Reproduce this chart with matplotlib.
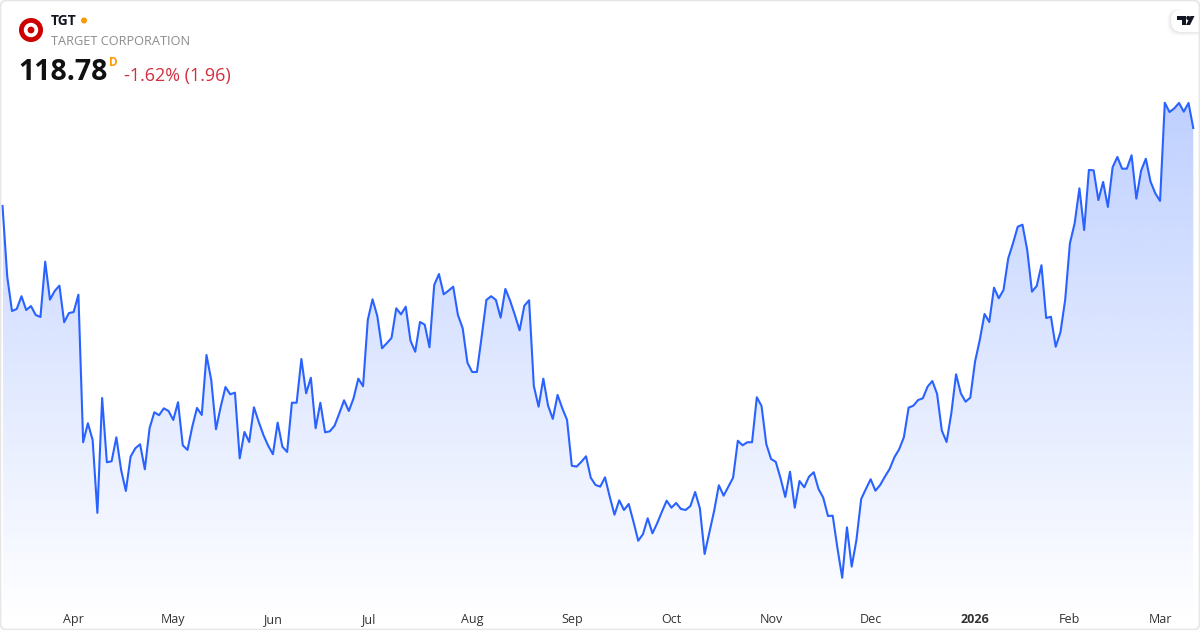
import matplotlib
matplotlib.use('Agg')
import matplotlib.pyplot as plt
import numpy as np
from matplotlib.patches import Circle, FancyBboxPatch, Polygon

plt.rcParams['font.family'] = ['Open Sans', 'DejaVu Sans']

prices = [
    112.67, 107.12, 104.43, 104.59, 105.59, 104.51, 104.82, 104.12, 103.96, 108.30,
    105.32, 106.00, 106.42, 103.55, 104.27, 104.35, 105.71, 94.14, 95.63, 94.32,
    88.60, 97.61, 92.57, 92.65, 94.53, 91.97, 90.32, 93.01, 93.67, 93.98,
    92.02, 95.24, 96.49, 96.26, 96.80, 96.59, 95.89, 97.28, 93.90, 93.54,
    95.36, 96.83, 96.28, 100.98, 99.02, 95.16, 96.93, 98.47, 97.90, 98.03,
    92.88, 94.95, 94.16, 96.88, 95.75, 94.71, 93.87, 93.20, 95.68, 93.79,
    93.38, 97.24, 97.24, 100.67, 97.98, 99.20, 95.24, 97.24, 94.92, 95.00,
    95.44, 96.41, 97.43, 96.59, 97.59, 99.13, 98.53, 103.73, 105.35, 104.04,
    101.51, 101.90, 102.32, 104.64, 104.17, 104.77, 102.10, 101.24, 103.57, 103.36,
    101.59, 106.47, 107.33, 105.74, 106.02, 106.34, 104.12, 103.08, 100.38, 99.65,
    99.65, 102.42, 105.30, 105.59, 105.30, 103.91, 106.16, 105.24, 104.12, 102.92,
    104.85, 105.27, 98.55, 96.93, 99.13, 97.01, 95.97, 97.85, 96.80, 95.89,
    92.30, 92.23, 92.60, 93.04, 91.36, 90.79, 90.66, 91.39, 89.87, 88.46,
    89.59, 88.83, 89.30, 87.91, 86.42, 86.93, 88.18, 87.00, 87.79, 88.70,
    89.56, 89.01, 89.38, 88.91, 88.83, 89.14, 90.24, 88.96, 85.38, 87.05,
    88.75, 90.77, 89.95, 90.66, 91.36, 94.26, 93.90, 94.14, 94.14, 97.67,
    96.98, 94.00, 92.83, 92.60, 91.32, 89.85, 91.83, 89.01, 91.10, 90.61,
    91.44, 91.79, 90.48, 89.80, 88.36, 88.38, 85.83, 83.52, 87.47, 84.39,
    86.48, 89.69, 90.48, 91.24, 90.34, 90.79, 91.44, 92.05, 92.96, 93.59,
    94.53, 96.85, 97.01, 97.45, 97.59, 98.50, 98.94, 97.93, 95.05, 94.16,
    96.41, 99.47, 97.98, 97.32, 97.64, 100.46, 102.16, 104.20, 103.57, 106.26,
    105.43, 106.08, 108.56, 109.74, 111.04, 111.20, 109.22, 105.95, 106.39, 108.02,
    103.88, 103.98, 101.63, 102.76, 105.30, 109.74, 111.31, 114.05, 110.78, 115.49,
    115.46, 113.13, 114.55, 112.59, 115.70, 116.51, 115.59, 115.59, 116.64, 113.24,
    115.43, 116.37, 114.57, 113.66, 113.06, 120.76, 120.03, 120.32, 120.74, 120.06,
    120.74, 118.78,
]
tick_pos = [15, 36, 57, 77, 99, 120, 141, 162, 183, 205, 225, 244]
tick_labels = ['Apr', 'May', 'Jun', 'Jul', 'Aug', 'Sep', 'Oct', 'Nov', 'Dec', '2026', 'Feb', 'Mar']

x = np.arange(len(prices))
y = np.array(prices)
y_min, y_max = 79.42, 128.815

fig = plt.figure(figsize=(12, 6.3), dpi=100, facecolor='white')

ax = fig.add_axes([0, 0, 1, 1])
ax.set_xlim(-0.527, 252.42)
ax.set_ylim(y_min, y_max)
ax.patch.set_alpha(0)
for s in ax.spines.values():
    s.set_visible(False)
ax.set_yticks([])
ax.set_xticks(tick_pos)
ax.set_xticklabels(tick_labels, fontsize=9, color='#333333', fontweight='normal')
ax.tick_params(axis='x', length=0, direction='in', pad=-7.6)
for lab in ax.get_xticklabels():
    lab.set_verticalalignment('center')
    if lab.get_text() == '2026':
        lab.set_fontweight('bold')

# gradient under the line, clipped to the area
n = 256
grad = np.zeros((n, 1, 4))
grad[:, 0, 0] = 41 / 255
grad[:, 0, 1] = 98 / 255
grad[:, 0, 2] = 1.0
grad[:, 0, 3] = np.linspace(0.30, 0.0, n)
area = ax.fill_between(x, y, y_min + 0.6, color='none', lw=0)
img = ax.imshow(grad, extent=[x[0], x[-1], y_min + 0.6, y.max()], aspect='auto', zorder=1,
                interpolation='bilinear')
img.set_clip_path(area.get_paths()[0], ax.transData)
ax.set_xlim(-0.527, 252.42)
ax.set_ylim(y_min, y_max)

ax.plot(x, y, color='#2962FF', lw=1.5, zorder=2, solid_joinstyle='round')

# overlay in pixels for the header, logos and frame
ov = fig.add_axes([0, 0, 1, 1])
ov.set_xlim(0, 1200)
ov.set_ylim(630, 0)
ov.axis('off')
ov.patch.set_alpha(0)

ov.add_patch(FancyBboxPatch((0.5, 0.5), 1199, 629, boxstyle='round,pad=0,rounding_size=6',
                            fc='none', ec='#e6e6e6', lw=1.2, zorder=7))

ov.add_patch(Circle((31, 30), 12, fc='#cc0000', ec='none'))
ov.add_patch(Circle((31, 30), 7.2, fc='white', ec='none'))
ov.add_patch(Circle((31, 30), 3.4, fc='#cc0000', ec='none'))

ov.text(51, 21, 'TGT', fontsize=10, fontweight='bold', color='#131722', va='center', ha='left')
ov.add_patch(Circle((84, 20.5), 3, fc='#ff9800', ec='none'))
ov.text(51, 41.5, 'TARGET CORPORATION', fontsize=9.2, color='#8c8c8c', va='center', ha='left')
ov.text(18.5, 72, '118.78', fontsize=20.5, fontweight='bold', color='#111111', va='center', ha='left')
ov.text(109, 62, 'D', fontsize=8.5, fontweight='bold', color='#ff9800', va='center', ha='left')
ov.text(123.5, 75.5, '-1.62% (1.96)', fontsize=12.9, color='#d0303f', va='center', ha='left')

# TradingView badge in the corner
for off, al in [(4, 0.012), (3, 0.018), (2, 0.025), (1, 0.03)]:
    ov.add_patch(FancyBboxPatch((1171 - off, 9), 40 + off, 23 + off,
                                boxstyle='round,pad=0,rounding_size=11', fc='black', alpha=al, ec='none', zorder=4))
ov.add_patch(FancyBboxPatch((1171, 9), 40, 23, boxstyle='round,pad=0,rounding_size=11',
                            fc='white', ec='none', zorder=5))
ov.add_patch(Polygon([(1177, 16), (1186, 16), (1186, 25), (1182, 25), (1182, 20), (1177, 20)],
                     fc='#131722', ec='none', zorder=6))
ov.add_patch(Circle((1188.3, 18), 2.1, fc='#131722', ec='none', zorder=6))
ov.add_patch(Polygon([(1190.5, 16), (1194.5, 16), (1190, 25), (1186, 25)], fc='#131722', ec='none', zorder=6))

fig.savefig('out.png', dpi=100)
